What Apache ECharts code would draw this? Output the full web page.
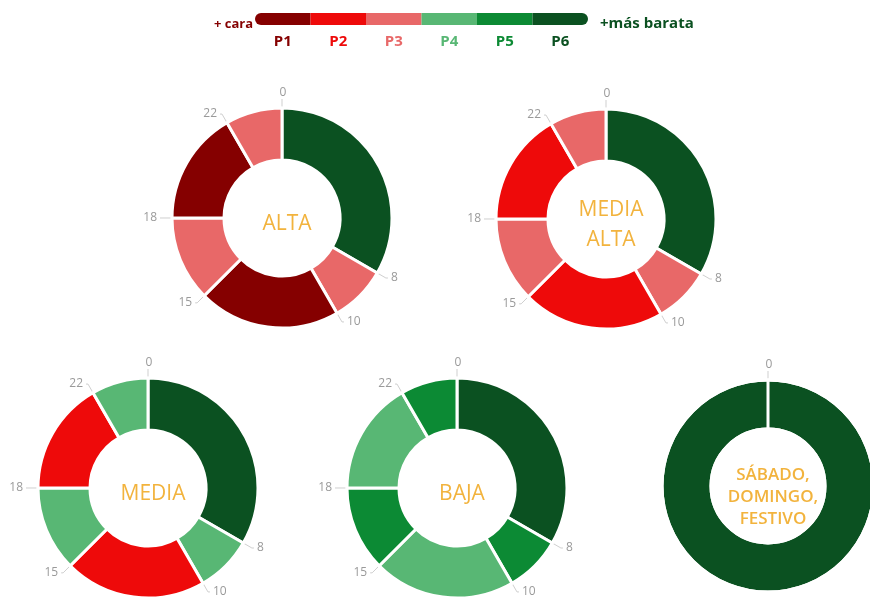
<!DOCTYPE html>
<html>
<head>
<meta charset="utf-8">
<script src="https://cdn.jsdelivr.net/npm/echarts@6/dist/echarts.min.js"></script>
<style>
  html, body { margin: 0; padding: 0; background: #fff; }
  #chart { width: 870px; height: 604px; }
</style>
</head>
<body>
<div id="chart"></div>
<script>
// ---- data ----
const periodNames = ['P1', 'P2', 'P3', 'P4', 'P5', 'P6'];
const periodColors = ['#850000', '#EE0A0A', '#E86868', '#58B774', '#0C8A34', '#0B5121'];
const legendLeftText = '+ cara';
const legendRightText = '+más barata';

const hourLabels = ['0', '8', '10', '15', '18', '22'];
const hourDurations = [8, 2, 5, 3, 4, 2];

const altaPeriods = ['P6', 'P3', 'P1', 'P3', 'P1', 'P3'];
const mediaAltaPeriods = ['P6', 'P3', 'P2', 'P3', 'P2', 'P3'];
const mediaPeriods = ['P6', 'P4', 'P2', 'P4', 'P2', 'P4'];
const bajaPeriods = ['P6', 'P5', 'P4', 'P5', 'P4', 'P5'];

const weekendHourLabels = ['0'];
const weekendDurations = [24];
const weekendPeriods = ['P6'];

const donutTitles = ['ALTA', 'MEDIA\nALTA', 'MEDIA', 'BAJA', 'SÁBADO,\nDOMINGO,\nFESTIVO'];

// ---- layout ----
const donuts = [
  { title: donutTitles[0], periods: altaPeriods, durations: hourDurations, labels: hourLabels, center: [282, 218], radius: [58, 110], font: 21, lh: 30 },
  { title: donutTitles[1], periods: mediaAltaPeriods, durations: hourDurations, labels: hourLabels, center: [606, 219], radius: [58, 110], font: 21, lh: 30 },
  { title: donutTitles[2], periods: mediaPeriods, durations: hourDurations, labels: hourLabels, center: [148, 488], radius: [58, 110], font: 21, lh: 30 },
  { title: donutTitles[3], periods: bajaPeriods, durations: hourDurations, labels: hourLabels, center: [457, 488], radius: [58, 110], font: 21, lh: 30 },
  { title: donutTitles[4], periods: weekendPeriods, durations: weekendDurations, labels: weekendHourLabels, center: [768, 486], radius: [57, 106], font: 17, lh: 22, whiteGap: true }
];

const colorOf = p => periodColors[periodNames.indexOf(p)];
const FONT = '"Open Sans", Lato, sans-serif';
const EPS = 0.0001;

const series = [];
const titles = [];

// legend bar as stacked horizontal bars
periodNames.forEach((p, i) => {
  let radius = 0;
  if (i === 0) radius = [6, 0, 0, 6];
  if (i === periodNames.length - 1) radius = [0, 6, 6, 0];
  series.push({
    type: 'bar',
    stack: 'legend',
    xAxisIndex: 0, yAxisIndex: 0,
    barWidth: 12,
    silent: true,
    data: [1],
    itemStyle: { color: periodColors[i], borderRadius: radius },
    label: {
      show: true, position: 'bottom', distance: 9,
      formatter: p, color: periodColors[i],
      fontFamily: FONT, fontWeight: 'bold', fontSize: 15
    }
  });
});

titles.push({
  text: legendLeftText, left: 248, top: 19, textAlign: 'right', textVerticalAlign: 'middle',
  textStyle: { color: '#850000', fontFamily: FONT, fontWeight: 'bold', fontSize: 13 }
});
titles.push({
  text: legendRightText, left: 595, top: 19, textAlign: 'left', textVerticalAlign: 'middle',
  textStyle: { color: '#0B5121', fontFamily: FONT, fontWeight: 'bold', fontSize: 15 }
});

donuts.forEach(d => {
  // the ring
  series.push({
    type: 'pie',
    center: d.center,
    radius: d.radius,
    startAngle: 90,
    clockwise: true,
    silent: true,
    avoidLabelOverlap: false,
    label: { show: false },
    labelLine: { show: false },
    itemStyle: { borderColor: '#fff', borderWidth: 3 },
    data: d.durations.map((v, i) => ({ value: v, name: d.periods[i], itemStyle: { color: colorOf(d.periods[i]) } }))
  });
  // boundary hour labels
  const overlay = [];
  d.durations.forEach((v, i) => {
    overlay.push({
      value: EPS, name: d.labels[i],
      label: i === 0 ? { show: true, distanceToLabelLine: 1 } : { show: true },
      labelLine: i === 0 ? { show: true, length: 9, length2: 0 } : { show: true }
    });
    overlay.push({ value: v - EPS, name: '', label: { show: false }, labelLine: { show: false } });
  });
  series.push({
    type: 'pie',
    center: d.center,
    radius: d.radius,
    startAngle: 90,
    clockwise: true,
    silent: true,
    avoidLabelOverlap: false,
    minAngle: 0,
    itemStyle: d.whiteGap
      ? { color: 'rgba(0,0,0,0)', borderColor: '#fff', borderWidth: 3 }
      : { color: 'rgba(0,0,0,0)', borderWidth: 0 },
    label: {
      show: true, position: 'outside', formatter: '{b}',
      color: '#9a9a9a', fontFamily: FONT, fontSize: 12, distanceToLabelLine: 3
    },
    labelLine: { show: true, length: 10, length2: 2, lineStyle: { color: '#cfcfcf', width: 1 } },
    labelLayout: function (params) {
      if (params.dataIndex === 0) return { align: 'center', verticalAlign: 'bottom' };
      return {};
    },
    data: overlay
  });
  titles.push({
    text: d.title, left: d.center[0], top: d.center[1] + (d.whiteGap ? 6 : 1),
    textAlign: 'center', textVerticalAlign: 'middle',
    textStyle: { color: '#F2B33D', fontFamily: FONT, fontSize: d.font, lineHeight: d.lh, fontWeight: d.whiteGap ? 600 : 500, align: 'center' }
  });
});

const chart = echarts.init(document.getElementById('chart'), null, { renderer: 'canvas' });
chart.setOption({
  backgroundColor: '#ffffff',
  animation: false,
  title: titles,
  grid: { left: 255, top: 13, width: 333, height: 12, containLabel: false },
  xAxis: { type: 'value', min: 0, max: periodNames.length, show: false },
  yAxis: { type: 'category', data: ['leyenda'], show: false },
  series: series
});
</script>
</body>
</html>
